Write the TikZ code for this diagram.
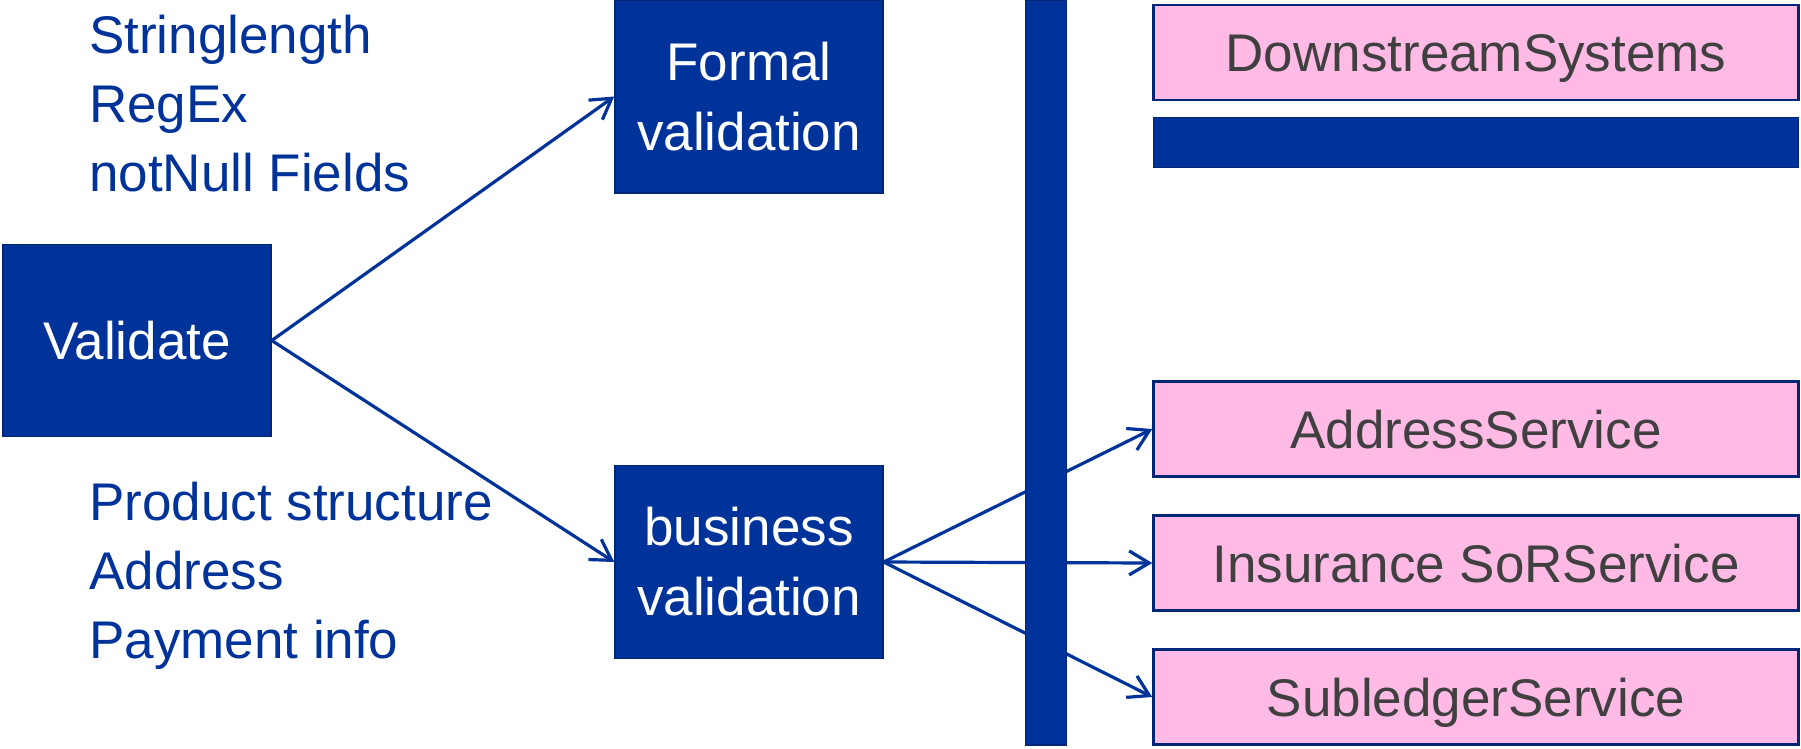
\documentclass[tikz,border=0pt]{standalone}
\usepackage{fontspec}
\setmainfont{Liberation Sans}
\usetikzlibrary{arrows.meta}
\definecolor{navy}{RGB}{0,51,153}
\definecolor{navyedge}{RGB}{0,38,120}
\definecolor{pinkfill}{RGB}{255,187,230}
\definecolor{textgray}{RGB}{64,64,64}
\tikzset{
  bigfont/.style={font=\fontsize{53}{70}\selectfont},
  bluebox/.style={draw=navyedge, line width=1.5pt, fill=navy, text=white, bigfont,
    align=center, inner sep=0pt, minimum width=268pt, minimum height=193pt},
  servicebox/.style={draw=navyedge, line width=2.5pt, fill=pinkfill, text=textgray, bigfont,
    inner sep=0pt, text height=38pt, text depth=0pt,
    minimum width=645pt, minimum height=95pt},
  barbox/.style={draw=navyedge, line width=1.5pt, fill=navy, inner sep=0pt},
  note/.style={text=navy, bigfont, anchor=base west, inner sep=0pt},
  link/.style={draw=navy, line width=3.2pt, -{Straight Barb[length=20pt,width=24pt,line width=3.2pt]}}
}
\begin{document}
\begin{tikzpicture}[x=1pt, y=-1pt]
\useasboundingbox (0,0) rectangle (1801,748);

% validation stages
\node[bluebox, minimum height=192pt] (validate) at (137,340.5) {Validate};
\node[bluebox] (formal) at (749,96.5) {Formal\\validation};
\node[bluebox] (business) at (749,562) {business\\validation};

% notes on what each stage checks
\node[note] (n1) at (89,53) {Stringlength};
\node[note] (n2) at (89,122) {RegEx};
\node[note] (n3) at (89,191) {notNull Fields};
\node[note] (p1) at (89,520) {Product structure};
\node[note] (p2) at (89,589) {Address};
\node[note] (p3) at (89,658) {Payment info};

% downstream systems
\node[servicebox] (down) at (1476,52.5) {DownstreamSystems};
\node[barbox, minimum width=645pt, minimum height=50pt] (hbar) at (1476,142.5) {};
\node[servicebox] (addr) at (1476,429) {AddressService};
\node[servicebox] (ins) at (1476,563) {Insurance SoRService};
\node[servicebox] (sub) at (1476,697) {SubledgerService};

% connectors
\draw[link] (validate.east) -- (formal.west);
\draw[link] (validate.east) -- (business.west);
\draw[link] (business.east) -- (addr.west);
\draw[link] (business.east) -- (ins.west);
\draw[link] (business.east) -- (sub.west);

% vertical bus drawn over the connectors
\node[barbox, minimum width=41pt, minimum height=745pt] (vbar) at (1046,372.5) {};
\end{tikzpicture}
\end{document}
